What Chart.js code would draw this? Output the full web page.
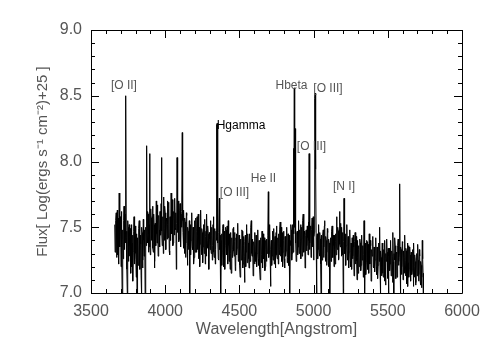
<!DOCTYPE html>
<html lang="en">
<head>
<meta charset="UTF-8">
<title>Spectrum</title>
<script src="https://cdn.jsdelivr.net/npm/chart.js"></script>
<style>
  body { margin: 0; background: #fff; }
</style>
</head>
<body>
<canvas id="specChart" width="491" height="351"></canvas>
<script>
const waveStart = 3660;
const waveStep = 2.5;
const flux = [
  7.52, 7.31, 7.38, 7.55, 7.61, 7.27, 7.44, 7.63, 7.29, 7.40, 7.57, 7.22, 7.76, 7.46, 7.35, 7.58, 7.48, 7.20, 7.62, 7.37,
  6.98, 7.48, 7.41, 7.26, 7.55, 7.66, 7.33, 7.45, 7.60, 7.38, 8.50, 7.42, 7.47, 7.18, 6.98, 7.55, 7.50, 7.24, 7.36, 7.52,
  7.28, 7.43, 7.49, 7.15, 7.35, 7.52, 7.20, 7.38, 7.44, 7.09, 7.31, 7.47, 7.58, 7.22, 7.26, 7.51, 7.39, 7.30, 7.12, 7.45,
  6.97, 7.34, 7.42, 7.21, 7.30, 7.49, 7.55, 7.27, 7.18, 7.44, 7.37, 7.13, 6.96, 7.50, 7.46, 7.19, 7.25, 7.56, 7.40, 7.28,
  7.33, 7.48, 6.97, 7.41, 7.50, 7.36, 8.12, 7.44, 7.38, 7.62, 7.60, 7.31, 7.45, 7.52, 8.06, 7.35, 7.29, 7.64, 7.57, 7.40,
  7.42, 7.58, 7.66, 7.34, 7.31, 7.60, 7.52, 7.19, 7.24, 7.53, 7.47, 7.36, 7.70, 7.45, 7.38, 7.67, 7.55, 7.28, 7.29, 7.59,
  7.48, 7.35, 7.62, 7.51, 7.44, 7.68, 8.03, 7.47, 7.36, 7.55, 7.58, 7.30, 7.73, 7.49, 7.40, 7.66, 7.61, 7.42, 7.33, 7.57,
  7.55, 7.41, 7.70, 7.52, 7.42, 7.69, 7.64, 7.32, 7.29, 7.58, 7.51, 7.40, 7.76, 7.48, 7.45, 7.71, 7.60, 7.36, 7.38, 7.62,
  7.57, 7.44, 7.72, 7.50, 7.48, 7.61, 7.18, 7.53, 8.03, 7.46, 7.52, 7.70, 7.66, 7.39, 7.41, 7.63, 7.68, 7.43, 7.35, 7.60,
  7.50, 7.62, 8.22, 7.55, 7.46, 7.34, 7.63, 7.49, 7.30, 7.57, 7.54, 7.27, 7.38, 7.61, 7.59, 7.36, 7.21, 7.50, 7.47, 7.33,
  7.36, 7.55, 6.96, 7.44, 7.52, 7.29, 7.40, 7.58, 7.61, 7.35, 7.33, 7.50, 7.48, 7.22, 7.27, 7.53, 7.55, 7.31, 7.42, 7.57,
  7.31, 7.47, 7.58, 7.33, 7.44, 7.60, 7.26, 7.41, 7.50, 7.20, 7.37, 7.54, 7.63, 7.38, 7.29, 7.49, 7.46, 7.23, 7.35, 7.52,
  7.52, 7.30, 7.39, 7.56, 7.22, 7.43, 7.47, 7.28, 7.60, 7.40, 7.34, 7.51, 7.45, 7.26, 7.18, 7.46, 7.41, 7.33, 7.55, 7.36,
  7.30, 7.50, 7.44, 7.25, 7.36, 7.52, 7.58, 7.31, 7.27, 7.45, 7.49, 7.22, 7.33, 7.47, 7.40, 8.28, 8.29, 7.38, 7.43, 7.26,
  7.25, 7.46, 7.72, 7.33, 7.38, 7.44, 6.97, 7.40, 7.45, 7.21, 7.31, 7.49, 7.52, 7.28, 7.20, 7.47, 7.43, 7.18, 7.36, 7.50,
  7.48, 7.34, 7.29, 7.51, 7.40, 7.22, 7.55, 7.36, 7.24, 7.45, 7.37, 7.18, 7.46, 7.30, 7.15, 7.41, 7.42, 7.27, 7.33, 7.49,
  7.50, 7.32, 7.28, 7.46, 7.39, 7.17, 7.20, 7.42, 7.45, 7.29, 7.34, 7.53, 7.52, 7.24, 7.26, 7.44, 7.38, 7.21, 7.12, 7.40,
  7.41, 7.25, 7.30, 7.48, 7.47, 7.19, 7.22, 7.43, 7.36, 7.28, 7.08, 7.39, 7.44, 7.20, 7.31, 7.52, 7.50, 7.23, 7.27, 7.45,
  7.38, 7.26, 7.19, 7.45, 7.43, 7.24, 7.32, 7.50, 7.55, 7.30, 7.28, 7.41, 7.40, 7.13, 7.16, 7.39, 7.35, 7.22, 7.46, 7.31,
  7.24, 7.44, 7.39, 7.20, 7.30, 7.45, 7.48, 7.26, 7.21, 7.40, 7.37, 7.18, 7.10, 7.35, 7.42, 7.23, 7.29, 7.47, 7.34, 7.19,
  7.45, 7.29, 7.26, 7.42, 7.38, 7.17, 7.20, 7.40, 7.33, 7.24, 7.41, 7.30, 7.36, 7.44, 7.77, 7.27, 7.30, 7.46, 7.52, 7.25,
  7.05, 7.33, 7.40, 7.21, 7.28, 7.45, 7.47, 7.25, 7.34, 7.49, 7.22, 7.38, 7.43, 7.19, 7.30, 7.46, 7.51, 7.29, 7.26, 7.42,
  7.38, 7.22, 7.45, 7.33, 7.29, 7.48, 7.54, 7.28, 7.35, 7.50, 7.24, 7.41, 7.46, 7.20, 7.31, 7.47, 7.40, 7.26, 7.19, 7.43,
  7.43, 7.28, 7.32, 7.47, 7.50, 7.23, 7.27, 7.45, 7.38, 7.21, 7.44, 7.33, 6.97, 7.40, 7.36, 7.52, 7.48, 7.25, 7.30, 7.46,
  7.52, 7.31, 8.10, 7.45, 8.56, 7.50, 8.25, 7.38, 7.41, 7.24, 7.28, 7.46, 7.47, 7.29, 7.35, 7.53, 7.55, 7.30, 7.33, 7.48,
  7.39, 7.52, 7.26, 7.41, 7.50, 7.28, 7.37, 7.55, 7.60, 7.34, 7.31, 7.47, 7.45, 7.19, 7.22, 7.44, 7.48, 7.32, 7.36, 7.51,
  7.42, 7.29, 7.54, 7.40, 8.06, 7.33, 7.38, 7.51, 7.49, 7.27, 7.30, 7.48, 7.57, 7.35, 7.40, 7.58, 7.25, 7.43, 7.46, 8.48,
  8.52, 8.05, 7.94, 7.38, 6.97, 7.42, 7.45, 7.26, 7.33, 7.50, 7.52, 7.31, 7.28, 7.46, 7.41, 7.22, 6.98, 7.44, 7.37, 7.25,
  7.29, 7.44, 7.48, 7.27, 7.35, 7.51, 7.55, 7.30, 7.24, 7.43, 7.40, 7.21, 7.31, 7.49, 7.46, 7.25, 7.20, 7.41, 7.38, 7.23,
  6.98, 7.36, 7.42, 7.24, 7.30, 7.47, 7.51, 7.28, 7.27, 7.44, 7.36, 7.20, 7.44, 7.33, 7.22, 7.45, 7.39, 7.29, 7.58, 7.35,
  7.33, 7.50, 7.47, 7.25, 7.26, 7.48, 7.62, 7.37, 7.35, 7.53, 7.41, 7.28, 7.50, 7.34, 7.29, 7.46, 6.97, 7.39, 7.72, 7.31,
  7.30, 7.42, 7.45, 7.21, 7.36, 7.49, 7.52, 7.27, 7.25, 7.43, 7.40, 7.19, 7.31, 7.46, 7.48, 7.24, 7.20, 7.38, 7.37, 7.18,
  7.42, 7.26, 7.28, 7.44, 7.35, 7.13, 7.19, 7.39, 7.46, 7.22, 7.31, 7.43, 7.24, 7.10, 7.40, 7.27, 7.15, 7.36, 7.33, 7.20,
  7.26, 7.41, 7.38, 7.17, 7.21, 7.40, 7.44, 7.25, 7.30, 7.36, 7.12, 7.29, 7.55, 7.32, 6.97, 7.38, 7.35, 7.14, 7.23, 7.40,
  7.39, 7.24, 7.18, 7.37, 7.31, 7.15, 7.45, 7.27, 7.22, 7.40, 7.36, 7.09, 7.10, 7.33, 7.28, 7.43, 7.41, 7.20, 7.19, 7.35,
  7.33, 7.16, 7.25, 7.39, 7.42, 7.20, 7.14, 7.35, 7.30, 7.11, 7.21, 7.37, 7.38, 7.24, 7.50, 7.19, 6.98, 7.32, 7.27, 7.13,
  7.20, 7.38, 7.35, 7.15, 7.12, 7.33, 7.29, 7.09, 7.40, 7.26, 7.06, 7.30, 7.24, 7.41, 7.31, 7.11, 7.18, 7.34, 6.97, 7.28,
  7.34, 7.17, 7.22, 7.40, 7.39, 7.13, 7.15, 7.32, 7.28, 7.08, 7.46, 7.24, 6.97, 7.30, 7.25, 7.42, 7.36, 7.19, 7.11, 7.31,
  7.30, 7.12, 7.19, 7.36, 7.41, 7.21, 7.24, 7.30, 7.83, 7.27, 6.97, 7.35, 7.33, 7.14, 7.20, 7.39, 7.38, 7.10, 7.16, 7.32,
  7.27, 7.15, 7.44, 7.25, 7.13, 7.34, 7.32, 7.07, 7.22, 7.38, 7.05, 7.23, 7.36, 7.12, 7.18, 7.35, 7.29, 7.10, 7.09, 7.31,
  7.31, 7.14, 7.17, 7.33, 7.26, 7.05, 7.38, 7.20, 7.12, 7.29, 7.24, 7.06, 7.08, 7.27, 7.30, 7.13, 7.19, 7.37, 7.25, 7.09,
  7.14, 7.33, 7.28, 7.10, 7.06, 7.24, 7.21, 7.04, 7.12, 7.40, 7.26, 7.15, 6.98
];

const xTickValues = [3500, 4000, 4500, 5000, 5500, 6000];
const yTickValues = [7.0, 7.5, 8.0, 8.5, 9.0];

// emission line labels: text and where it sits (wavelength, flux)
const lineNames  = ['[O II]', 'Hgamma', '[O III]', 'He II', 'Hbeta', '[O III]', '[O III]', '[N I]'];
const lineWaves  = [3722, 4511, 4467, 4662, 4851, 4986, 5097, 5205];
const lineFluxes = [8.53, 8.224, 7.72, 7.82, 8.53, 8.07, 8.51, 7.76];

const points = flux.map((f, i) => ({ x: waveStart + i * waveStep, y: f }));

const fontName = "'Liberation Sans', Arial, sans-serif";

// box with inward major/minor ticks on all four sides, plus line labels
const framePlugin = {
    id: 'frame',
    afterDatasetsDraw(chart) {
        const ctx = chart.ctx;
        const a = chart.chartArea;
        const xs = chart.scales.x, ys = chart.scales.y;
        ctx.save();
        ctx.strokeStyle = '#000';
        ctx.lineWidth = 1;
        ctx.beginPath();
        ctx.rect(Math.round(a.left) + 0.5, Math.round(a.top) + 0.5,
                 Math.round(a.right - a.left), Math.round(a.bottom - a.top));
        ctx.stroke();

        ctx.beginPath();
        for (let w = 3500; w <= 6000; w += 100) {
            const px = Math.round(xs.getPixelForValue(w)) + 0.5;
            const len = (w % 500 === 0) ? 8 : 4;
            ctx.moveTo(px, a.bottom); ctx.lineTo(px, a.bottom - len);
            ctx.moveTo(px, a.top); ctx.lineTo(px, a.top + len);
        }
        for (let k = 0; k <= 20; k++) {
            const v = 7 + k * 0.1;
            const py = Math.round(ys.getPixelForValue(v)) + 0.5;
            const len = (k % 5 === 0) ? 8 : 4;
            ctx.moveTo(a.left, py); ctx.lineTo(a.left + len, py);
            ctx.moveTo(a.right, py); ctx.lineTo(a.right - len, py);
        }
        ctx.stroke();

        ctx.font = '12px ' + fontName;
        ctx.textAlign = 'center';
        ctx.textBaseline = 'bottom';
        lineNames.forEach((name, i) => {
            ctx.fillStyle = name === 'Hgamma' ? '#000' : '#555';
            ctx.fillText(name, xs.getPixelForValue(lineWaves[i]), ys.getPixelForValue(lineFluxes[i]));
        });
        ctx.restore();
    }
};

const ctx = document.getElementById('specChart').getContext('2d');
const chart = new Chart(ctx, {
    type: 'line',
    data: {
        datasets: [{
            data: points,
            borderColor: '#000',
            borderWidth: 1,
            pointRadius: 0,
            tension: 0,
            fill: false
        }]
    },
    options: {
        responsive: false,
        animation: false,
        devicePixelRatio: 1,
        layout: { padding: { top: 30, right: 29, left: 0, bottom: 0 } },
        plugins: { legend: { display: false }, tooltip: { enabled: false } },
        scales: {
            x: {
                type: 'linear',
                min: 3500,
                max: 6000,
                afterBuildTicks: s => { s.ticks = xTickValues.map(v => ({ value: v })); },
                afterFit: s => { s.height = 58; },
                grid: { display: false, drawTicks: false },
                border: { display: false },
                ticks: {
                    maxRotation: 0,
                    autoSkip: false,
                    padding: 9,
                    color: '#555',
                    font: { family: fontName, size: 16 },
                    callback: v => String(v)
                },
                title: {
                    display: true,
                    text: 'Wavelength[Angstrom]',
                    color: '#555',
                    font: { family: fontName, size: 16 },
                    padding: { top: 0, bottom: 12 }
                }
            },
            y: {
                min: 7,
                max: 9,
                afterBuildTicks: s => { s.ticks = yTickValues.map(v => ({ value: v })); },
                afterFit: s => { s.width = 91; },
                grid: { display: false, drawTicks: false },
                border: { display: false },
                ticks: {
                    padding: 9,
                    color: '#555',
                    font: { family: fontName, size: 16 },
                    callback: v => Number(v).toFixed(1)
                },
                title: {
                    display: true,
                    text: 'Flux[ Log(ergs s\u207B\u00B9 cm\u207B\u00B2)+25 ]',
                    color: '#555',
                    font: { family: fontName, size: 15 },
                    padding: { top: 34, bottom: 0 }
                }
            }
        }
    },
    plugins: [framePlugin]
});
</script>
</body>
</html>
